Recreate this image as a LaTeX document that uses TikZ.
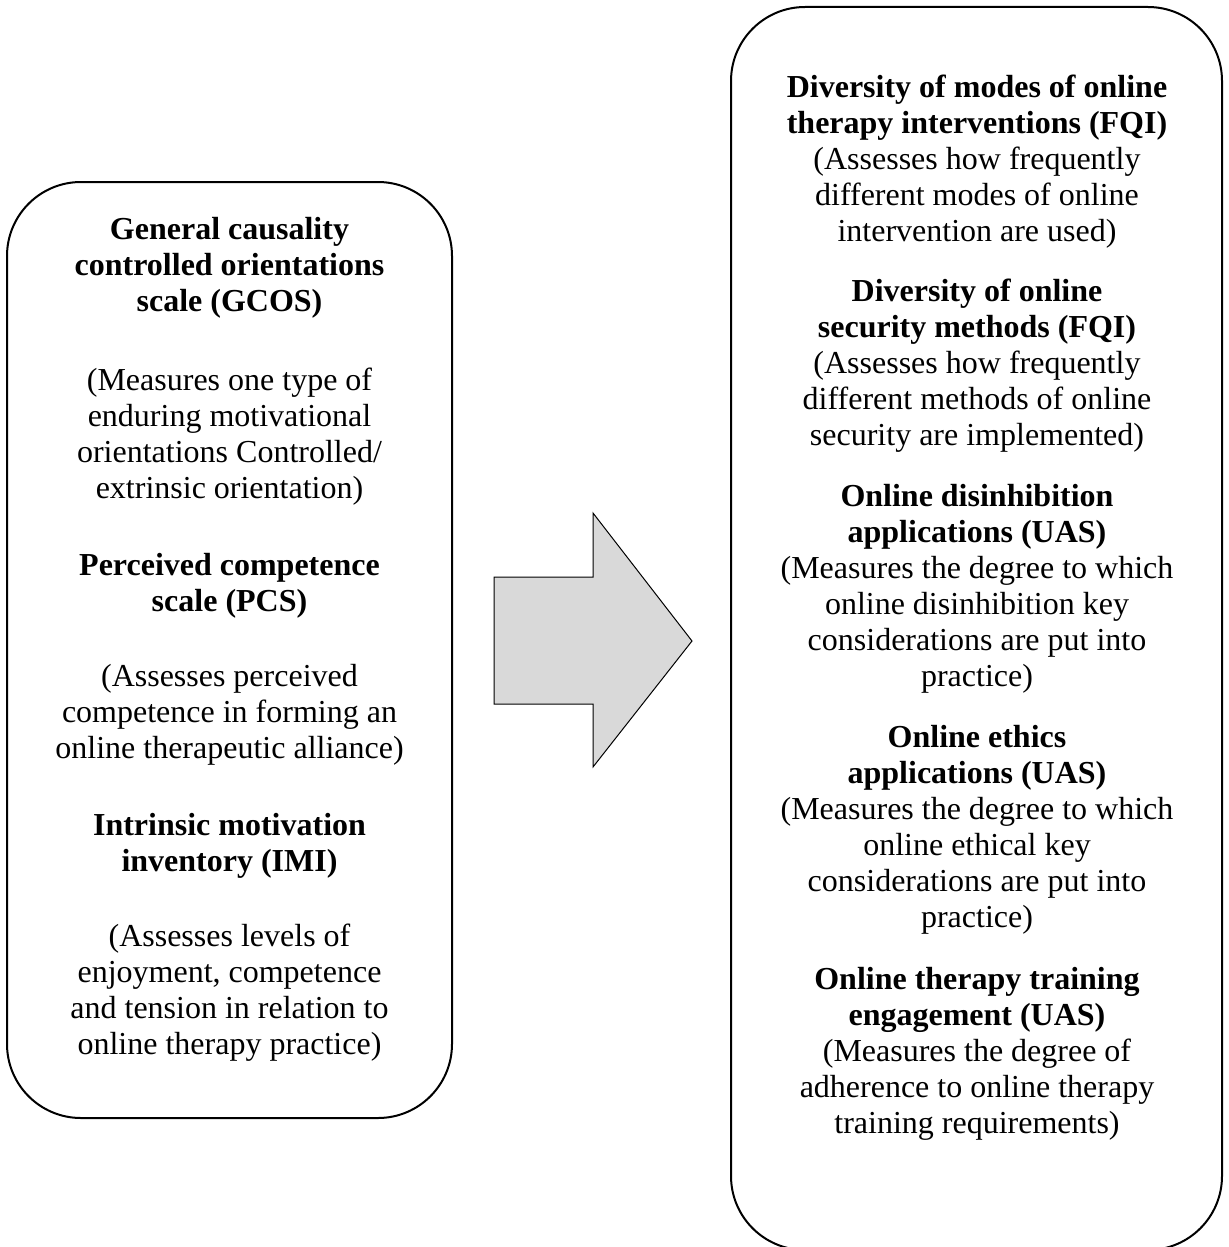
\documentclass[tikz,border=0pt]{standalone}
\usepackage{fontspec}
\setmainfont{Liberation Serif}
\begin{document}
\begin{tikzpicture}[x=0.5pt,y=-0.5pt,
  box/.style={draw=black, line width=1pt, rounded corners=37pt, inner sep=0pt},
  txt/.style={align=center, inner sep=0pt, font=\fontsize{16pt}{18pt}\selectfont},
  bigarrow/.style={draw=black, line width=0.5pt, fill=arrowgray}]
\definecolor{arrowgray}{HTML}{D9D9D9}
\clip (0,0) rectangle (1229,1247);
\fill[white] (0,0) rectangle (1229,1247);
% boxes
\node[box, minimum width=222.5pt, minimum height=468pt] (leftbox) at (229.5,650) {};
\node[box, minimum width=245.5pt, minimum height=621.5pt] (rightbox) at (976.5,628.5) {};
% arrow
\coordinate (a1) at (494,577);
\coordinate (a2) at (593,577);
\coordinate (a3) at (593,513);
\coordinate (tip) at (692,641);
\coordinate (a5) at (593,767);
\coordinate (a6) at (593,704);
\coordinate (a7) at (494,704);
\draw[bigarrow] (a1) -- (a2) -- (a3) -- (tip) -- (a5) -- (a6) -- (a7) -- cycle;
% left texts
\node[txt] (L1h) at (229.5,268) {\bfseries General causality\\\bfseries controlled orientations\\\bfseries scale (GCOS)};
\node[txt] (L1d) at (229.5,437) {(Measures one type of\\enduring motivational\\orientations Controlled/\\extrinsic orientation)};
\node[txt] (L2h) at (229.5,586) {\bfseries Perceived competence\\\bfseries scale (PCS)};
\node[txt] (L2d) at (229.5,715) {(Assesses perceived\\competence in forming an\\online therapeutic alliance)};
\node[txt] (L3h) at (229.5,846) {\bfseries Intrinsic motivation\\\bfseries inventory (IMI)};
\node[txt] (L3d) at (229.5,993) {(Assesses levels of\\enjoyment, competence\\and tension in relation to\\online therapy practice)};
% right texts
\node[txt] (R1) at (977,162) {\bfseries Diversity of modes of online\\\bfseries therapy interventions (FQI)\\(Assesses how frequently\\different modes of online\\intervention are used)};
\node[txt] (R2) at (977,366) {\bfseries Diversity of online\\\bfseries security methods (FQI)\\(Assesses how frequently\\different methods of online\\security are implemented)};
\node[txt] (R3) at (977,589) {\bfseries Online disinhibition\\\bfseries applications (UAS)\\(Measures the degree to which\\online disinhibition key\\considerations are put into\\practice)};
\node[txt] (R4) at (977,830) {\bfseries Online ethics\\\bfseries applications (UAS)\\(Measures the degree to which\\online ethical key\\considerations are put into\\practice)};
\node[txt] (R5) at (977,1054) {\bfseries Online therapy training\\\bfseries engagement (UAS)\\(Measures the degree of\\adherence to online therapy\\training requirements)};
\end{tikzpicture}
\end{document}
